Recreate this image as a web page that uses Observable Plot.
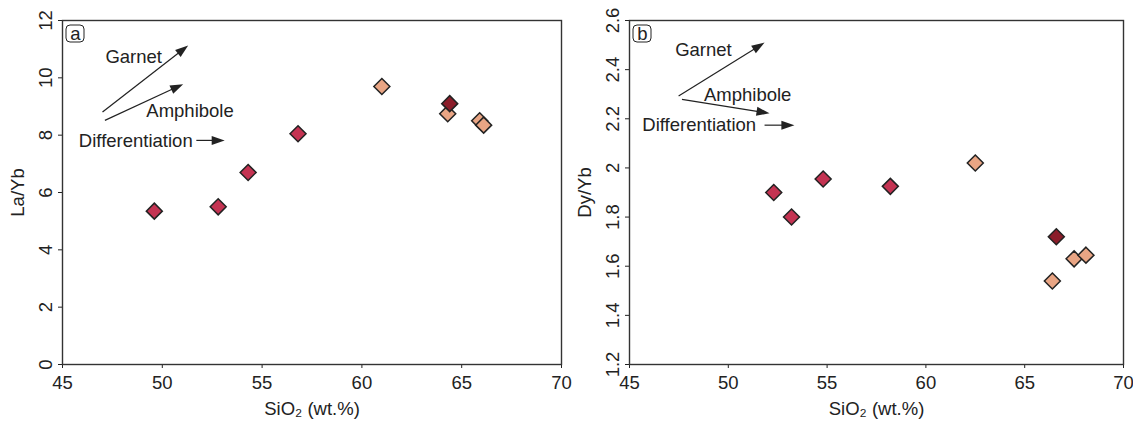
<!DOCTYPE html>
<html><head><meta charset="utf-8">
<script src="https://cdn.jsdelivr.net/npm/d3@7"></script>
<script src="https://cdn.jsdelivr.net/npm/@observablehq/plot@0.6"></script>
<style>
body{margin:0;background:#fff;}
#wrap{display:flex;width:1133px;height:422px;}
#wrap svg{overflow:visible;background:none !important;}
</style></head><body><div id="wrap"></div>
<script>
// ---- data ----
const groups = ["mafic", "evolved", "dark"];
const groupColors = ["#c43352", "#e9a584", "#8b1d2a"];

const sio2A  = [49.6, 52.8, 54.3, 56.8, 61.0, 64.3, 65.9, 66.1, 64.4];
const laYb   = [5.35, 5.5, 6.7, 8.05, 9.7, 8.75, 8.5, 8.35, 9.1];
const groupA = ["mafic", "mafic", "mafic", "mafic", "evolved", "evolved", "evolved", "evolved", "dark"];

const sio2B  = [52.3, 53.2, 54.8, 58.2, 62.5, 66.4, 67.5, 68.1, 66.6];
const dyYb   = [1.9, 1.8, 1.955, 1.925, 2.02, 1.54, 1.63, 1.645, 1.72];
const groupB = ["mafic", "mafic", "mafic", "mafic", "evolved", "evolved", "evolved", "evolved", "dark"];

const xTicks  = [45, 50, 55, 60, 65, 70];
const yTicksA = [0, 2, 4, 6, 8, 10, 12];
const yTicksB = [1.2, 1.4, 1.6, 1.8, 2.0, 2.2, 2.4, 2.6];

const vectorNames = ["Garnet", "Amphibole", "Differentiation"];
// panel a vectors (data coordinates)
const vecA_x1 = [47.03, 47.15, 51.73];
const vecA_y1 = [8.79, 8.5, 7.8];
const vecA_x2 = [51.32, 51.07, 53.15];
const vecA_y2 = [11.11, 9.76, 7.8];
const labA_x  = [47.15, 49.2, 45.82];
const labA_y  = [10.73, 8.85, 7.8];
// panel b vectors
const vecB_x1 = [47.51, 47.68, 51.86];
const vecB_y1 = [2.291, 2.277, 2.172];
const vecB_x2 = [51.86, 52.11, 53.37];
const vecB_y2 = [2.508, 2.22, 2.172];
const labB_x  = [47.31, 48.77, 45.65];
const labB_y  = [2.478, 2.298, 2.176];

// ---- helpers ----
const rowsOf = (xs, ys, gs) => xs.map((x, i) => ({x, y: ys[i], g: gs[i]}));
const vecsOf = (x1, y1, x2, y2) => x1.map((v, i) => ({x1: v, y1: y1[i], x2: x2[i], y2: y2[i]}));
const labsOf = (xs, ys) => xs.map((x, i) => ({x, y: ys[i], t: vectorNames[i]}));
const fmt = d => String(+d.toFixed(1));
const ink = "#222";
const FS = 18.5;

function arrowMark(vecs) {
  return (index, scales) => {
    const g = d3.create("svg:g");
    for (const a of vecs) {
      const x1 = scales.x(a.x1), y1 = scales.y(a.y1), x2 = scales.x(a.x2), y2 = scales.y(a.y2);
      const dx = x2 - x1, dy = y2 - y1, L = Math.hypot(dx, dy), ux = dx / L, uy = dy / L;
      const hl = 13, hw = 4.5;
      const bx = x2 - ux * hl, by = y2 - uy * hl;
      g.append("line").attr("x1", x1).attr("y1", y1).attr("x2", bx + ux * 2).attr("y2", by + uy * 2)
        .attr("stroke", ink).attr("stroke-width", 1.2);
      g.append("path")
        .attr("d", `M${x2},${y2}L${bx - uy * hw},${by + ux * hw}L${bx + uy * hw},${by - ux * hw}Z`)
        .attr("fill", ink);
    }
    return g.node();
  };
}

function letterBox() {
  return (index, scales, values, dims) => {
    const g = d3.create("svg:g");
    g.append("rect").attr("x", dims.marginLeft + 4).attr("y", dims.marginTop + 5)
      .attr("width", 18).attr("height", 17).attr("rx", 4)
      .attr("fill", "none").attr("stroke", ink).attr("stroke-width", 1);
    return g.node();
  };
}

function panel({width, marginLeft, marginRight, rows, yDomain, yTicks, yLabel, vecs, labs, letter}) {
  return Plot.plot({
    width, height: 422,
    marginLeft, marginRight, marginTop: 20, marginBottom: 58,
    style: {fontFamily: "'Liberation Sans', Arial, sans-serif", fontSize: FS + "px", color: ink, background: "none", overflow: "visible"},
    x: {domain: [45, 70]},
    y: {domain: yDomain},
    color: {domain: groups, range: groupColors},
    marks: [
      Plot.axisX({ticks: xTicks, tickSize: 4, tickPadding: 7, fontSize: FS, label: "SiO₂ (wt.%)", labelAnchor: "center", labelOffset: 50, labelArrow: "none"}),
      Plot.axisY({ticks: yTicks, tickFormat: fmt, tickSize: 4, tickRotate: -90, tickPadding: 7, fontSize: FS, label: yLabel, labelAnchor: "center", labelOffset: 52, labelArrow: "none"}),
      Plot.frame({stroke: "#333", strokeWidth: 1.4}),
      letterBox(),
      Plot.text([letter], {frameAnchor: "top-left", dx: 13, dy: 14, text: d => d, textAnchor: "middle", lineAnchor: "middle", fill: ink, fontSize: FS}),
      arrowMark(vecs),
      Plot.text(labs, {x: "x", y: "y", text: "t", textAnchor: "start", lineAnchor: "middle", fill: ink, fontSize: FS}),
      Plot.dot(rows, {x: "x", y: "y", fill: "g", symbol: "diamond2", r: 7.2, stroke: "#222", strokeWidth: 1.5})
    ]
  });
}

const wrap = document.getElementById("wrap");
wrap.append(panel({
  width: 566, marginLeft: 62, marginRight: 5,
  rows: rowsOf(sio2A, laYb, groupA), yDomain: [0, 12], yTicks: yTicksA, yLabel: "La/Yb",
  vecs: vecsOf(vecA_x1, vecA_y1, vecA_x2, vecA_y2), labs: labsOf(labA_x, labA_y), letter: "a"
}));
wrap.append(panel({
  width: 567, marginLeft: 63, marginRight: 10,
  rows: rowsOf(sio2B, dyYb, groupB), yDomain: [1.2, 2.6], yTicks: yTicksB, yLabel: "Dy/Yb",
  vecs: vecsOf(vecB_x1, vecB_y1, vecB_x2, vecB_y2), labs: labsOf(labB_x, labB_y), letter: "b"
}));
</script></body></html>
